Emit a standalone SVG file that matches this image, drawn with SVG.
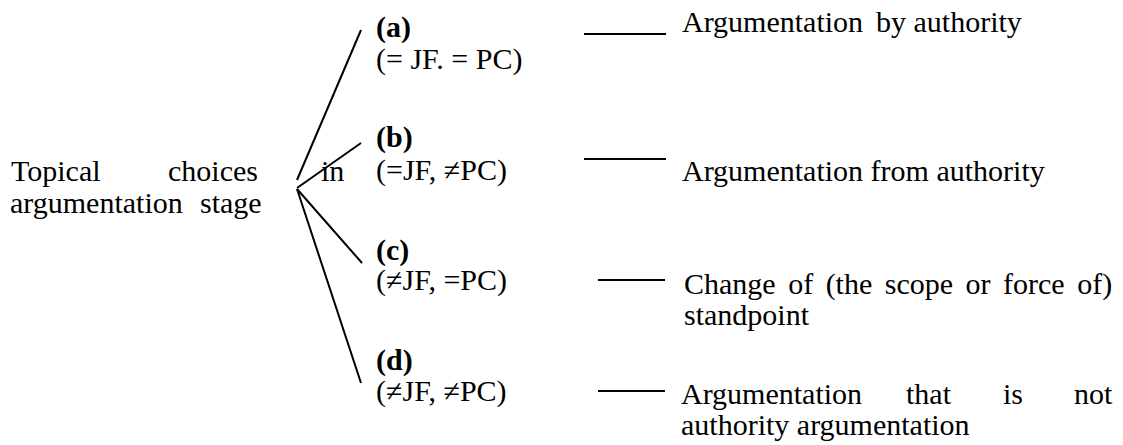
<svg xmlns="http://www.w3.org/2000/svg" width="1123" height="445" viewBox="0 0 1123 445">
<style>
text{font-family:"Liberation Serif","Times New Roman",serif;font-size:30px;fill:#000}
.b{font-weight:bold}
line{stroke:#000;stroke-width:2;fill:none}
</style>
<rect width="1123" height="445" fill="#fff"/>
<g id="root">
<text y="181"><tspan x="11">Topical</tspan><tspan x="168">choices</tspan><tspan x="321">in</tspan></text>
<text y="213"><tspan x="10">argumentation</tspan><tspan x="200">stage</tspan></text>
</g>
<g id="node-a">
<text class="b" x="376" y="37">(a)</text>
<text x="376" y="69">(= JF. = PC)</text>
</g>
<g id="node-b">
<text class="b" x="376" y="147">(b)</text>
<text x="376" y="180">(=JF, ≠PC)</text>
</g>
<g id="node-c">
<text class="b" x="376" y="260">(c)</text>
<text x="376" y="290">(≠JF, =PC)</text>
</g>
<g id="node-d">
<text class="b" x="376" y="370">(d)</text>
<text x="376" y="401">(≠JF, ≠PC)</text>
</g>
<g id="result-a">
<text y="32"><tspan x="682">Argumentation</tspan><tspan x="876">by authority</tspan></text>
</g>
<g id="result-b">
<text x="682" y="181">Argumentation from authority</text>
</g>
<g id="result-c">
<text x="684" y="294" word-spacing="5">Change of (the scope or force of)</text>
<text x="684" y="325">standpoint</text>
</g>
<g id="result-d">
<text y="404"><tspan x="681">Argumentation</tspan><tspan x="906">that</tspan><tspan x="1003">is</tspan><tspan x="1074">not</tspan></text>
<text x="681" y="435">authority argumentation</text>
</g>
<g id="connectors">
<line x1="297" y1="180" x2="361" y2="30"/>
<line x1="297" y1="188" x2="361" y2="143"/>
<line x1="297" y1="189" x2="362" y2="263"/>
<line x1="297" y1="189" x2="361" y2="383"/>
<line x1="584" y1="34" x2="666" y2="34"/>
<line x1="584" y1="159" x2="666" y2="159"/>
<line x1="598" y1="280" x2="665" y2="280"/>
<line x1="598" y1="391" x2="665" y2="391"/>
</g>
</svg>
